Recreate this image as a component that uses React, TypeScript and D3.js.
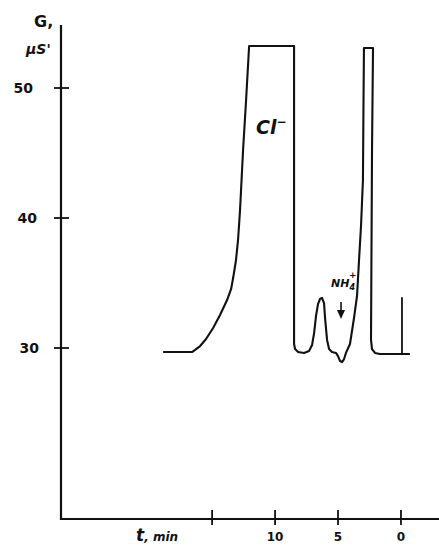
import React, { useRef, useEffect } from 'react';
import * as d3 from 'd3';

// chromatogram trace, time in min (axis runs right to left), conductivity in µS
const traceTime = [
    18.89, 16.59, 16.35, 15.95, 15.48, 14.92, 14.37, 13.81, 13.49, 13.33, 13.1, 12.94,
    12.78, 12.54, 12.3, 12.06, 8.49, 8.49, 8.41, 8.17, 7.7, 7.3, 7.06, 6.9, 6.75, 6.59,
    6.43, 6.27, 6.11, 6.03, 5.87, 5.71, 5.48, 5.16, 5.0, 4.84, 4.68, 4.52, 4.37, 4.05,
    3.73, 3.49, 3.33, 3.17, 3.02, 2.98, 2.94, 2.22, 2.3, 2.38, 2.3, 2.06, 1.67, -0.71,
];
const traceG = [
    29.69, 29.69, 29.85, 30.15, 30.69, 31.54, 32.54, 33.69, 34.54, 35.38, 36.77, 38.31,
    40.62, 45.23, 49.08, 53.23, 53.23, 30.31, 29.92, 29.69, 29.62, 29.77, 30.23, 31.15,
    32.46, 33.38, 33.77, 33.85, 33.46, 32.31, 30.62, 29.92, 29.69, 29.62, 29.38, 29.0,
    28.92, 29.15, 29.62, 30.31, 32.31, 34.0, 36.77, 39.46, 42.92, 48.31, 53.08,
    53.08, 45.23, 30.62, 29.92, 29.62, 29.54, 29.54,
];
// injection marker
const markerTime = [-0.08, -0.08];
const markerG = [33.9, 29.5];

const yTicks = [30, 40, 50];
const xTicks = [15, 10, 5, 0];
const xTickLabels = ['', '10', '5', '0'];

const W = 439;
const H = 545;

const Chromatogram: React.FC = () => {
    const svgRef = useRef<SVGSVGElement | null>(null);

    useEffect(() => {
        if (!svgRef.current) return;
        const svg = d3.select(svgRef.current);
        svg.selectAll('*').remove();

        const x = d3.scaleLinear().domain([27, -3.02]).range([61, 439]);
        const y = d3.scaleLinear().domain([30, 50]).range([348, 88]);

        const axisY0 = 519;
        const ink = '#111';
        const font = "'DejaVu Sans', sans-serif";

        svg.append('rect').attr('width', W).attr('height', H).attr('fill', '#fff');

        // axes
        svg.append('line')
            .attr('x1', 61).attr('x2', 61)
            .attr('y1', 25).attr('y2', axisY0 + 1)
            .attr('stroke', ink).attr('stroke-width', 2.2);
        svg.append('line')
            .attr('x1', 60).attr('x2', W)
            .attr('y1', axisY0).attr('y2', axisY0)
            .attr('stroke', ink).attr('stroke-width', 2.2);

        svg.selectAll('line.ytick')
            .data(yTicks)
            .enter()
            .append('line')
            .attr('class', 'ytick')
            .attr('x1', 54).attr('x2', 69)
            .attr('y1', (d) => y(d)).attr('y2', (d) => y(d))
            .attr('stroke', ink).attr('stroke-width', 1.8);
        svg.selectAll('text.ylab')
            .data(yTicks)
            .enter()
            .append('text')
            .attr('class', 'ylab')
            .attr('x', (d) => (d === 50 ? 33 : d === 40 ? 37 : 39))
            .attr('y', (d) => y(d) + 5)
            .attr('text-anchor', 'end')
            .attr('font-family', font)
            .attr('font-weight', 'bold')
            .attr('font-size', 14)
            .attr('fill', ink)
            .text((d) => d);

        svg.selectAll('line.xtick')
            .data(xTicks)
            .enter()
            .append('line')
            .attr('class', 'xtick')
            .attr('x1', (d) => x(d)).attr('x2', (d) => x(d))
            .attr('y1', axisY0 - 9).attr('y2', axisY0 + 6)
            .attr('stroke', ink).attr('stroke-width', 1.8);
        svg.selectAll('text.xlab')
            .data(xTicks)
            .enter()
            .append('text')
            .attr('class', 'xlab')
            .attr('x', (d) => x(d))
            .attr('y', 541)
            .attr('text-anchor', 'middle')
            .attr('font-family', font)
            .attr('font-weight', 'bold')
            .attr('font-size', 12)
            .attr('fill', ink)
            .text((_, i) => xTickLabels[i]);

        // axis titles
        const tLab = svg.append('text')
            .attr('x', 136).attr('y', 541)
            .attr('font-family', font)
            .attr('font-weight', 'bold')
            .attr('font-style', 'italic')
            .attr('fill', ink);
        tLab.append('tspan').attr('font-size', 17).text('t');
        tLab.append('tspan').attr('font-size', 12).text(', min');

        svg.append('text')
            .attr('x', 34).attr('y', 27)
            .attr('font-family', font)
            .attr('font-weight', 'bold')
            .attr('font-size', 16)
            .attr('fill', ink)
            .text('G,');
        svg.append('text')
            .attr('x', 26).attr('y', 54)
            .attr('font-family', font)
            .attr('font-weight', 'bold')
            .attr('font-style', 'italic')
            .attr('font-size', 14)
            .attr('fill', ink)
            .text("µS'");

        // trace
        const pts = traceTime.map((t, i) => [x(t), y(traceG[i])] as [number, number]);
        svg.append('path')
            .attr('d', d3.line()(pts))
            .attr('fill', 'none')
            .attr('stroke', ink)
            .attr('stroke-width', 2.1)
            .attr('stroke-linejoin', 'round');

        const mpts = markerTime.map((t, i) => [x(t), y(markerG[i])] as [number, number]);
        svg.append('path')
            .attr('d', d3.line()(mpts))
            .attr('stroke', ink)
            .attr('stroke-width', 1.8);

        // peak labels
        const cl = svg.append('text')
            .attr('x', 256).attr('y', 134)
            .attr('font-family', font)
            .attr('font-weight', 'bold')
            .attr('font-style', 'italic')
            .attr('font-size', 19)
            .attr('fill', ink);
        cl.append('tspan').text('Cl');
        cl.append('tspan').attr('font-size', 12).attr('dy', -8).text('−');

        const nh = svg.append('text')
            .attr('x', 331).attr('y', 287)
            .attr('font-family', font)
            .attr('font-weight', 'bold')
            .attr('font-style', 'italic')
            .attr('font-size', 11)
            .attr('fill', ink);
        nh.append('tspan').text('NH');
        nh.append('tspan').attr('font-size', 8).attr('dy', 3).text('4');
        nh.append('tspan').attr('font-size', 9).attr('dx', -6).attr('dy', -12).text('+');

        // arrow
        svg.append('line')
            .attr('x1', 341).attr('x2', 341)
            .attr('y1', 302).attr('y2', 316)
            .attr('stroke', ink).attr('stroke-width', 1.6);
        svg.append('path')
            .attr('d', 'M337,310 L341,319 L345,310 Z')
            .attr('fill', ink);
    }, []);

    return (
        <svg
            ref={svgRef}
            width={W}
            height={H}
            style={{ position: 'absolute', left: 0, top: 0 }}
        ></svg>
    );
};

export default function App() {
    return <Chromatogram />;
}
